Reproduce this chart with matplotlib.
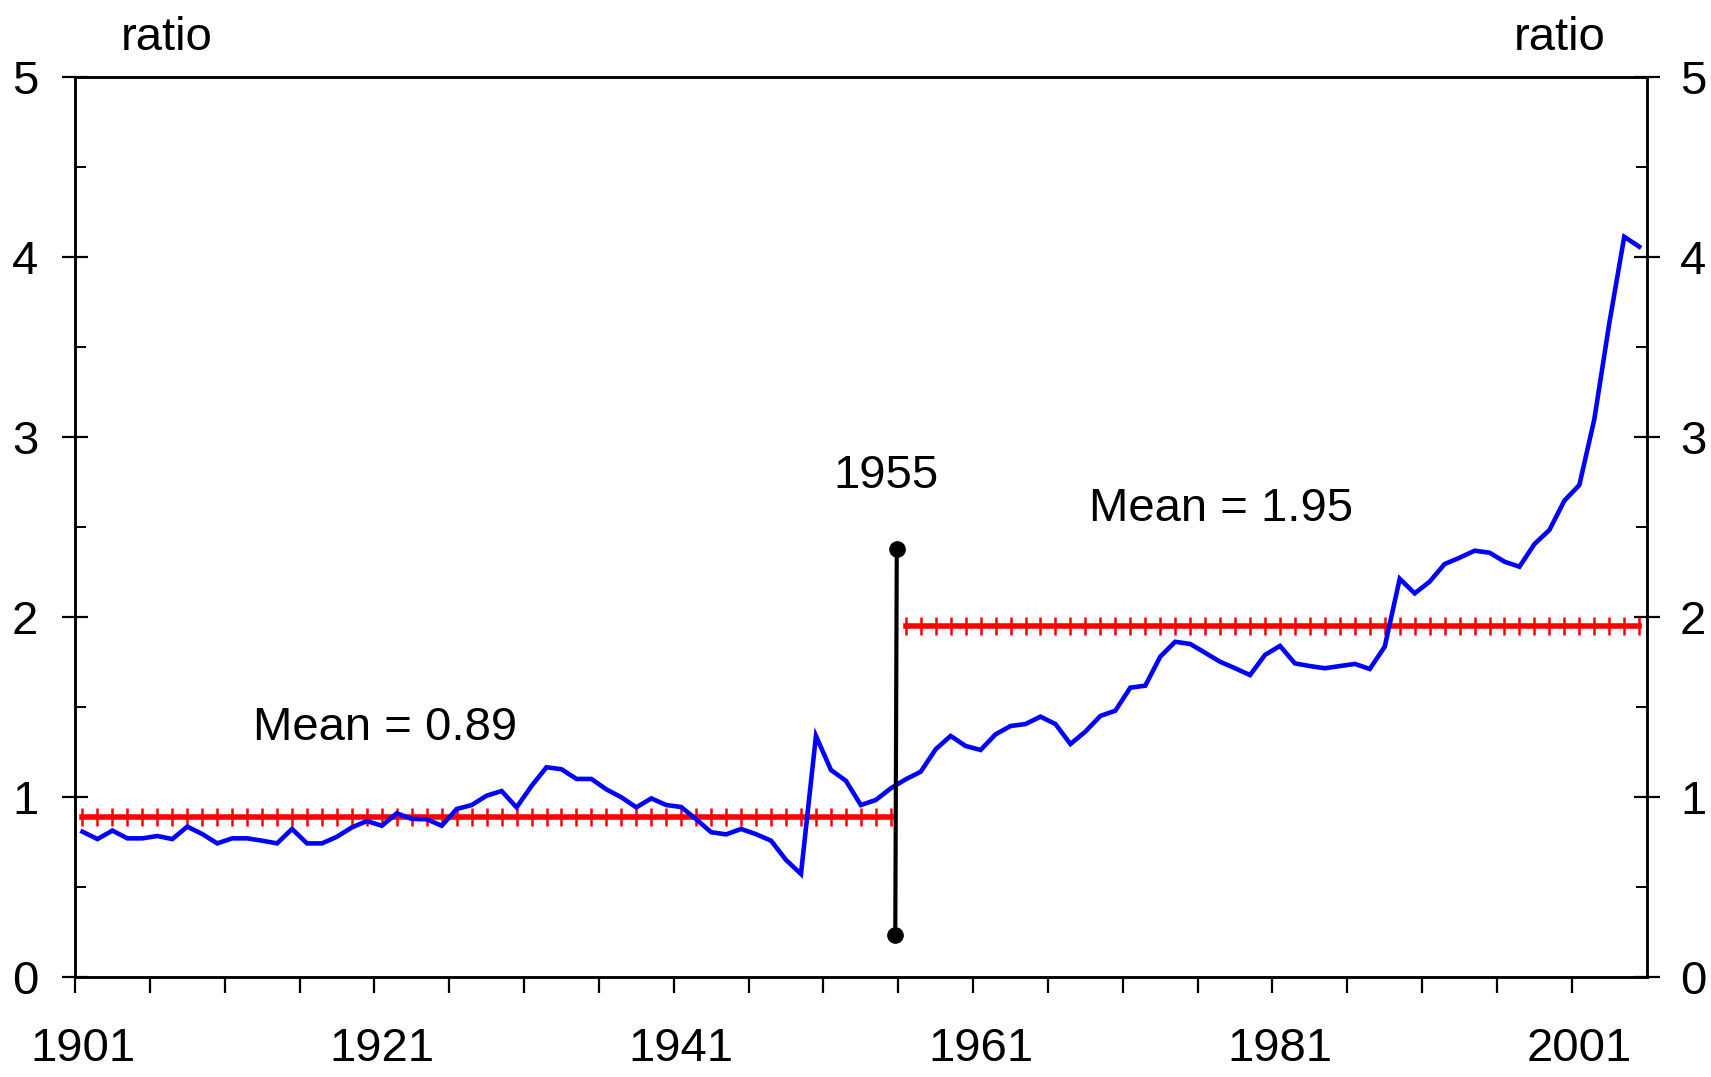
import matplotlib
matplotlib.use("Agg")
import matplotlib.pyplot as plt
import numpy as np

plt.rcParams['font.family'] = ['Liberation Sans', 'DejaVu Sans']

# ---- data ----
years = np.arange(1901, 2006)
ratio = [
    0.809, 0.768, 0.815, 0.772, 0.772, 0.785, 0.768, 0.837, 0.796, 0.744,   # 1901-1910
    0.772, 0.772, 0.759, 0.744, 0.824, 0.744, 0.744, 0.781, 0.833, 0.868,   # 1911-1920
    0.842, 0.911, 0.880, 0.878, 0.842, 0.935, 0.957, 1.009, 1.035, 0.944,   # 1921-1930
    1.063, 1.167, 1.156, 1.102, 1.102, 1.044, 1.000, 0.944, 0.994, 0.957,   # 1931-1940
    0.946, 0.878, 0.806, 0.794, 0.824, 0.795, 0.759, 0.652, 0.574, 1.341,   # 1941-1950
    1.152, 1.092, 0.957, 0.985, 1.050, 1.100, 1.142, 1.267, 1.341, 1.285,   # 1951-1960
    1.263, 1.350, 1.396, 1.407, 1.448, 1.407, 1.296, 1.365, 1.452, 1.481,   # 1961-1970
    1.609, 1.620, 1.781, 1.864, 1.852, 1.803, 1.753, 1.717, 1.679, 1.791,   # 1971-1980
    1.841, 1.744, 1.729, 1.717, 1.729, 1.741, 1.713, 1.837, 2.214, 2.133,   # 1981-1990
    2.198, 2.296, 2.331, 2.370, 2.359, 2.309, 2.281, 2.407, 2.485, 2.648,   # 1991-2000
    2.735, 3.100, 3.633, 4.114, 4.059,                                       # 2001-2005
]
break_year = 1955
mean_pre = 0.89
mean_post = 1.95
break_line_x = [1955.8, 1955.9]
break_line_y = [0.235, 2.378]

y_ticks = [0, 1, 2, 3, 4, 5]
x_label_years = [1901, 1921, 1941, 1961, 1981, 2001]

# ---- figure ----
W, H = 1711, 1077
fig = plt.figure(figsize=(W / 100, H / 100), dpi=100)
left, right, top, bottom = 75, 1646.7, 77.3, 977.3
ax = fig.add_axes([left / W, 1 - bottom / H, (right - left) / W, (bottom - top) / H])

yrs = np.asarray(years)
xc = yrs + 0.5  # category centres

pre = yrs <= break_year
post = yrs > break_year

ax.plot(xc[pre], np.full(pre.sum(), mean_pre), color='#ff0000', lw=4.0,
        marker='|', markersize=12.5, markeredgewidth=1.8, zorder=2)
ax.plot(xc[post], np.full(post.sum(), mean_post), color='#ff0000', lw=4.0,
        marker='|', markersize=12.5, markeredgewidth=1.8, zorder=2)

ax.plot(xc, ratio, color='#0000ff', lw=3.3, zorder=3, solid_joinstyle='miter')

ax.plot(break_line_x, break_line_y, color='black', lw=3.0, marker='o',
        markersize=11, zorder=4)

ax.set_xlim(1901, 2006)
ax.set_ylim(0, 5)

FS = 34
# y axis
ax.set_yticks(y_ticks)
ax.set_yticks(np.arange(0.5, 5, 1.0), minor=True)
ax.tick_params(axis='y', which='major', direction='inout', length=19, width=1.6,
               labelsize=FS, pad=17)
ax.tick_params(axis='y', which='minor', direction='in', length=8, width=1.4)

# x axis: tick marks at category boundaries every 5 years, labels at centres
ax.set_xticks(np.arange(1901, 2006, 5))
ax.set_xticklabels([])
ax.tick_params(axis='x', which='major', direction='out', length=11.5, width=1.6)
ax.set_xticks([y + 0.5 for y in x_label_years], minor=True)
ax.set_xticklabels([str(y) for y in x_label_years], minor=True)
ax.tick_params(axis='x', which='minor', length=0, labelsize=FS, pad=36)

ax2 = ax.twinx()
ax2.set_ylim(0, 5)
ax2.set_yticks(y_ticks)
ax2.set_yticks(np.arange(0.5, 5, 1.0), minor=True)
ax2.tick_params(axis='y', which='major', direction='inout', length=19, width=1.6,
                labelsize=FS, pad=14.5)
ax2.tick_params(axis='y', which='minor', direction='in', length=8, width=1.4)

for a in (ax, ax2):
    for s in a.spines.values():
        s.set_linewidth(1.8)

# annotations
ax.text(1912.9, 1.318, "Mean = 0.89", fontsize=FS, ha='left', va='baseline')
ax.text(1955.17, 2.718, "1955", fontsize=FS, ha='center', va='baseline')
ax.text(1968.76, 2.537, "Mean = 1.95", fontsize=FS, ha='left', va='baseline')

fig.text(167 / W, 1 - 50 / H, "ratio", fontsize=FS, ha='center', va='baseline')
fig.text(1560 / W, 1 - 50 / H, "ratio", fontsize=FS, ha='center', va='baseline')

fig.savefig("out.png", dpi=100)
